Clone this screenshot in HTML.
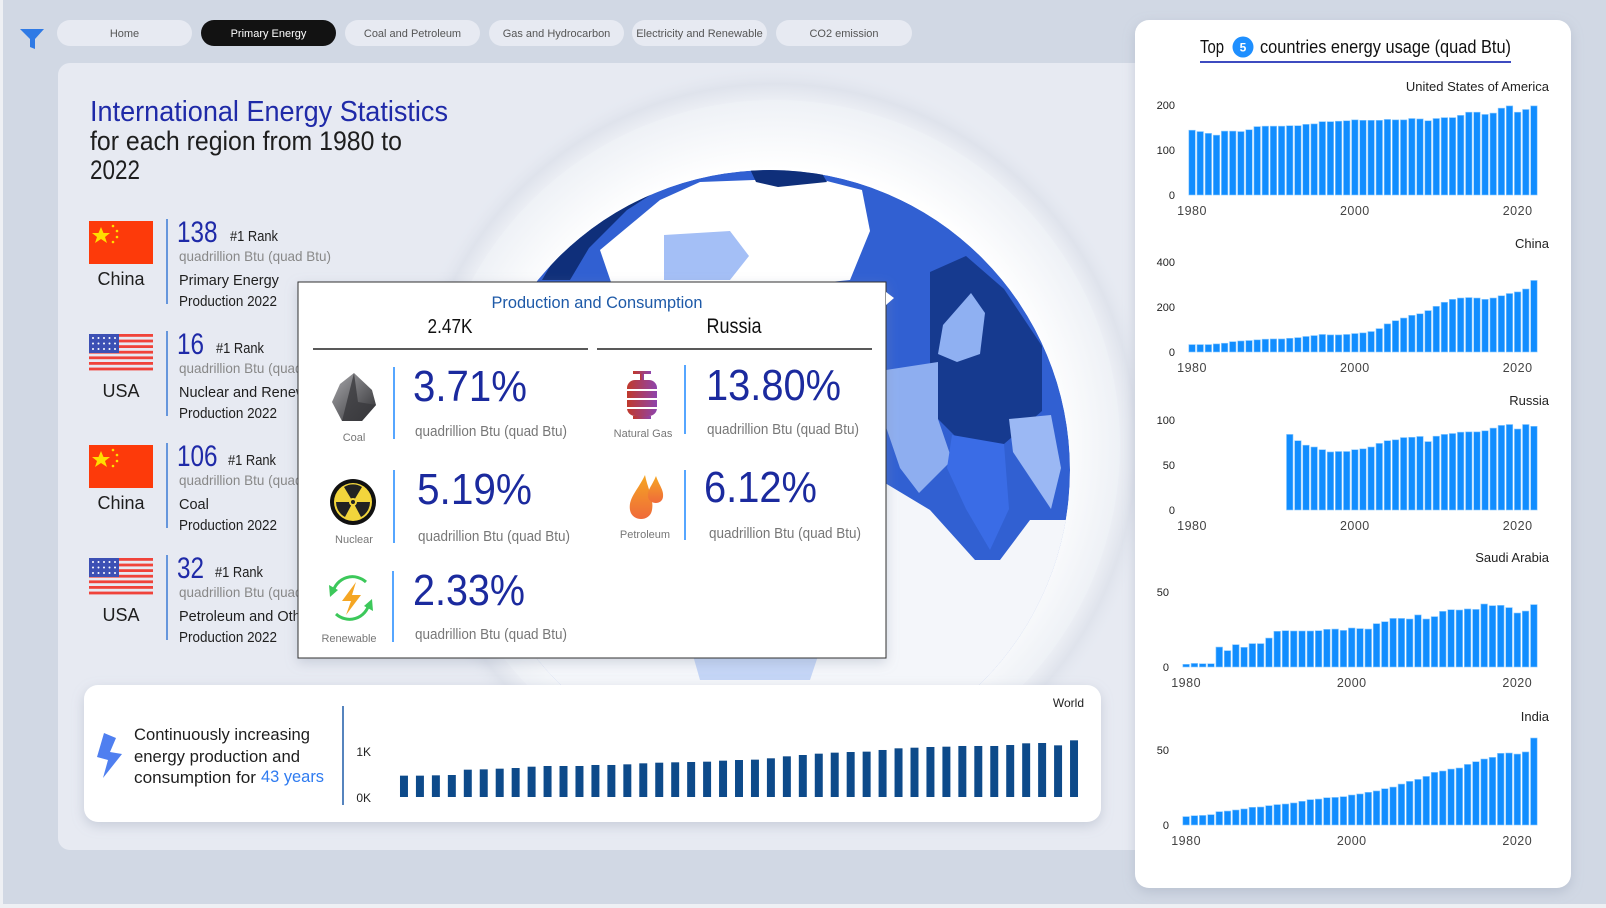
<!DOCTYPE html>
<html><head><meta charset="utf-8"><style>
html,body{margin:0;padding:0;background:#eef0f4;}
svg{display:block;font-family:"Liberation Sans",sans-serif;}
</style></head><body>
<svg id="root" width="1606" height="908" viewBox="0 0 1606 908" xmlns="http://www.w3.org/2000/svg">
<defs>
<filter id="sh" x="-10%" y="-10%" width="120%" height="130%"><feDropShadow dx="0" dy="4" stdDeviation="6" flood-color="#8a94aa" flood-opacity="0.35"/></filter>
<radialGradient id="halo" cx="0.5" cy="0.5" r="0.5"><stop offset="0.88" stop-color="#f3f5f9"/><stop offset="0.95" stop-color="#dfe3ec"/><stop offset="1" stop-color="#e6eaf2" stop-opacity="0"/></radialGradient>
<radialGradient id="disc" cx="0.5" cy="0.5" r="0.5"><stop offset="0.8" stop-color="#ffffff"/><stop offset="1" stop-color="#eef1f6"/></radialGradient>
<clipPath id="earth"><circle cx="770" cy="470" r="300"/></clipPath>
<linearGradient id="gasg" x1="0" x2="1"><stop offset="0" stop-color="#c0392b"/><stop offset="1" stop-color="#8e44ad"/></linearGradient>
<linearGradient id="oilg" x1="0" y1="0" x2="0" y2="1"><stop offset="0" stop-color="#f5a623"/><stop offset="1" stop-color="#ef6a3a"/></linearGradient>
<linearGradient id="coalg" x1="0" y1="0" x2="1" y2="1"><stop offset="0" stop-color="#a9a9ad"/><stop offset="1" stop-color="#2d2d30"/></linearGradient>
</defs>

<rect x="3" y="0" width="1603" height="904" fill="#d1d8e4"/>
<rect x="58" y="63" width="1100" height="787" rx="12" fill="#e7eaf2"/>

<g>
  <path d="M20 29 H44 L35 39 V49 L30 47 V39 Z" fill="#2f7ae5"/>
  <g><rect x="57" y="20" width="135" height="26" rx="13" fill="#e7eaf2"/><text x="124.5" y="37" font-size="11" fill="#555" text-anchor="middle">Home</text></g>
  <g><rect x="201" y="20" width="135" height="26" rx="13" fill="#121212"/><text x="268.5" y="37" font-size="11" fill="#fff" text-anchor="middle">Primary Energy</text></g>
  <g><rect x="345" y="20" width="135" height="26" rx="13" fill="#e7eaf2"/><text x="412.5" y="37" font-size="11" fill="#555" text-anchor="middle">Coal and Petroleum</text></g>
  <g><rect x="489" y="20" width="135" height="26" rx="13" fill="#e7eaf2"/><text x="556.5" y="37" font-size="11" fill="#555" text-anchor="middle">Gas and Hydrocarbon</text></g>
  <g><rect x="632" y="20" width="135" height="26" rx="13" fill="#e7eaf2"/><text x="699.5" y="37" font-size="11" fill="#555" text-anchor="middle">Electricity and Renewable</text></g>
  <g><rect x="776" y="20" width="136" height="26" rx="13" fill="#e7eaf2"/><text x="844" y="37" font-size="11" fill="#555" text-anchor="middle">CO2 emission</text></g>
</g>

<g>
  <circle cx="775" cy="445" r="380" fill="url(#halo)"/>
  <circle cx="775" cy="445" r="345" fill="url(#disc)"/>
  <g clip-path="url(#earth)">
    <circle cx="770" cy="470" r="300" fill="#3160d2"/>
    <polygon points="600,250 660,200 700,182 754,180 815,178 862,190 870,231 850,280 730,292 612,285" fill="#ffffff"/>
    <polygon points="542,280 556,256 598,219 664,183 683,174 627,210 589,248 570,280" fill="#0f2f7a"/>
    <polygon points="749,167 792,162 820,170 827,182 778,187 756,182" fill="#0f2f7a"/>
    <polygon points="664,235 730,231 749,256 730,280 664,280" fill="#a4bff6"/>
    <polygon points="930,272 966,256 1004,289 1042,346 1042,411 1004,444 971,452 938,419 930,362" fill="#163a8f"/>
    <polygon points="943,325 971,293 985,313 980,354 957,362 938,354" fill="#8fb0f2"/>
    <polygon points="886,370 938,362 938,419 952,460 919,493 900,468 886,427" fill="#8eaef0"/>
    <polygon points="952,435 1004,444 1009,509 990,550 966,509 947,468" fill="#3a6ce6"/>
    <polygon points="1009,419 1051,415 1061,468 1051,509 1013,452" fill="#9bb8f4"/>
    <polygon points="470,520 880,480 930,510 975,560 1000,560 1030,520 1080,520 1080,800 470,800" fill="#f4f6fa"/>
    <polygon points="690,645 760,640 820,650 810,680 700,680" fill="#c4d5f6"/>
  </g>
</g>

<text x="90" y="121" font-size="29" fill="#1f2aa8" textLength="358" lengthAdjust="spacingAndGlyphs">International Energy Statistics</text>
<text x="90" y="150" font-size="27" fill="#1e1e1e" textLength="312" lengthAdjust="spacingAndGlyphs">for each region from 1980 to</text>
<text x="90" y="179" font-size="27" fill="#1e1e1e" textLength="50" lengthAdjust="spacingAndGlyphs">2022</text>

<g id="rows"></g>

<g>
  <rect x="298" y="282" width="588" height="376" fill="#fff" stroke="#333" stroke-width="1" filter="url(#sh)"/>
  <polygon points="886,292 894,298 886,305" fill="#fff"/>
  <text x="597" y="308" font-size="17" fill="#1e5aa8" text-anchor="middle" textLength="211" lengthAdjust="spacingAndGlyphs">Production and Consumption</text>
  <text x="450" y="333" font-size="20" fill="#111" text-anchor="middle" textLength="45" lengthAdjust="spacingAndGlyphs">2.47K</text>
  <text x="734" y="333" font-size="21" fill="#111" text-anchor="middle" textLength="55" lengthAdjust="spacingAndGlyphs">Russia</text>
  <line x1="313" y1="349" x2="588" y2="349" stroke="#222" stroke-width="1.5"/>
  <line x1="597" y1="349" x2="872" y2="349" stroke="#222" stroke-width="1.5"/>

  <g>
    <polygon points="354,373 372,390 376,405 362,421 342,421 332,402 340,384" fill="url(#coalg)"/>
    <polygon points="354,373 358,402 376,405 362,421 342,421" fill="#3a3a3d" opacity="0.8"/>
    <text x="354" y="441" font-size="11" fill="#777" text-anchor="middle">Coal</text>
    <line x1="394" y1="367" x2="394" y2="439" stroke="#1e88ff" stroke-width="1.5"/>
    <text x="413" y="401" font-size="44" fill="#1b2a9e" textLength="114" lengthAdjust="spacingAndGlyphs">3.71%</text>
    <text x="415" y="436" font-size="15" fill="#777" textLength="152" lengthAdjust="spacingAndGlyphs">quadrillion Btu (quad Btu)</text>
  </g>
  <g>
    <circle cx="353" cy="502" r="23" fill="#111"/><circle cx="353" cy="502" r="19" fill="#f2d53c"/>
    <path d="M353 502 L344 487 A17 17 0 0 1 362 487 Z M353 502 L370 502 A17 17 0 0 1 361 517 Z M353 502 L345 517 A17 17 0 0 1 336 502 Z" fill="#222"/>
    <circle cx="353" cy="502" r="4" fill="#f2d53c"/><circle cx="353" cy="502" r="2" fill="#222"/>
    <text x="354" y="543" font-size="11" fill="#777" text-anchor="middle">Nuclear</text>
    <line x1="394" y1="470" x2="394" y2="543" stroke="#1e88ff" stroke-width="1.5"/>
    <text x="417" y="504" font-size="44" fill="#1b2a9e" textLength="115" lengthAdjust="spacingAndGlyphs">5.19%</text>
    <text x="418" y="541" font-size="15" fill="#777" textLength="152" lengthAdjust="spacingAndGlyphs">quadrillion Btu (quad Btu)</text>
  </g>
  <g>
    <path d="M333 592 A20 20 0 0 1 366 582" fill="none" stroke="#3cc85a" stroke-width="3"/>
    <path d="M369 604 A20 20 0 0 1 336 614" fill="none" stroke="#3cc85a" stroke-width="3"/>
    <polygon points="329,585 338,590 330,597" fill="#3cc85a"/><polygon points="373,611 364,606 372,599" fill="#3cc85a"/>
    <polygon points="356,582 342,601 351,601 346,615 361,595 352,595" fill="#f5a623"/>
    <text x="349" y="642" font-size="11" fill="#777" text-anchor="middle">Renewable</text>
    <line x1="393" y1="571" x2="393" y2="642" stroke="#1e88ff" stroke-width="1.5"/>
    <text x="413" y="605" font-size="44" fill="#1b2a9e" textLength="112" lengthAdjust="spacingAndGlyphs">2.33%</text>
    <text x="415" y="639" font-size="15" fill="#777" textLength="152" lengthAdjust="spacingAndGlyphs">quadrillion Btu (quad Btu)</text>
  </g>
  <g>
    <rect x="633" y="371" width="18" height="3" fill="url(#gasg)"/><rect x="640" y="374" width="4" height="6" fill="url(#gasg)"/>
    <rect x="627" y="380" width="30" height="36" rx="8" fill="url(#gasg)"/>
    <rect x="627" y="389" width="30" height="2" fill="#fff"/><rect x="627" y="398" width="30" height="2" fill="#fff"/><rect x="627" y="407" width="30" height="2" fill="#fff"/>
    <rect x="633" y="416" width="18" height="3" fill="url(#gasg)"/>
    <text x="643" y="437" font-size="11" fill="#777" text-anchor="middle">Natural Gas</text>
    <line x1="685" y1="365" x2="685" y2="434" stroke="#1e88ff" stroke-width="1.5"/>
    <text x="706" y="400" font-size="44" fill="#1b2a9e" textLength="135" lengthAdjust="spacingAndGlyphs">13.80%</text>
    <text x="707" y="434" font-size="15" fill="#777" textLength="152" lengthAdjust="spacingAndGlyphs">quadrillion Btu (quad Btu)</text>
  </g>
  <g>
    <path d="M645 475 C638 490 628 498 630 510 C632 522 650 522 652 510 C654 498 648 490 645 475 Z" fill="url(#oilg)"/>
    <path d="M656 476 C652 486 647 490 648 497 C650 505 662 505 663 497 C664 490 659 485 656 476 Z" fill="url(#oilg)"/>
    <text x="645" y="538" font-size="11" fill="#777" text-anchor="middle">Petroleum</text>
    <line x1="685" y1="470" x2="685" y2="540" stroke="#1e88ff" stroke-width="1.5"/>
    <text x="704" y="502" font-size="44" fill="#1b2a9e" textLength="113" lengthAdjust="spacingAndGlyphs">6.12%</text>
    <text x="709" y="538" font-size="15" fill="#777" textLength="152" lengthAdjust="spacingAndGlyphs">quadrillion Btu (quad Btu)</text>
  </g>
</g>

<g>
  <rect x="84" y="685" width="1017" height="137" rx="14" fill="#fff" filter="url(#sh)"/>
  <polygon points="104,733 116,738 110,752 122,754 103,778 108,760 97,757" fill="#4f7ff0"/>
  <text x="134" y="740" font-size="17" fill="#1e1e1e" textLength="176" lengthAdjust="spacingAndGlyphs">Continuously increasing</text>
  <text x="134" y="762" font-size="17" fill="#1e1e1e" textLength="166" lengthAdjust="spacingAndGlyphs">energy production and</text>
  <text x="134" y="783" font-size="17" fill="#1e1e1e" textLength="122" lengthAdjust="spacingAndGlyphs">consumption for</text>
  <text x="261" y="782" font-size="17" fill="#2f7bf0" textLength="63" lengthAdjust="spacingAndGlyphs">43 years</text>
  <line x1="343" y1="706" x2="343" y2="805" stroke="#1e5aa8" stroke-width="1.5"/>
  <text x="1084" y="707" font-size="12" fill="#222" text-anchor="end">World</text>
  <g id="worldChart"></g>
</g>

<g>
  <rect x="1135" y="20" width="436" height="868" rx="14" fill="#fff" filter="url(#sh)"/>
  <text x="1200" y="53" font-size="18" fill="#111" textLength="24" lengthAdjust="spacingAndGlyphs">Top</text>
  <circle cx="1243" cy="47" r="10.5" fill="#1e8fff"/>
  <text x="1243" y="51.5" font-size="12" fill="#fff" text-anchor="middle" font-weight="bold">5</text>
  <text x="1260" y="53" font-size="18" fill="#111" textLength="251" lengthAdjust="spacingAndGlyphs">countries energy usage (quad Btu)</text>
  <line x1="1200" y1="62" x2="1511" y2="62" stroke="#3d4bc0" stroke-width="2"/>
  <g id="smallCharts"></g>
</g>

<script>
const years = [];
for (let y = 1980; y <= 2022; y++) years.push(y);

const usValues = [144,141,137,133,142,142,141,145,152,153,153,153,154,154,157,158,163,163,164,165,167,166,166,166,168,167,167,170,169,165,170,172,172,177,184,184,179,182,193,198,184,190,198];
const chinaValues = [33,33,33,36,39,46,49,51,54,57,58,58,61,64,69,73,78,76,76,78,82,85,91,104,125,139,151,163,170,184,203,221,234,240,242,240,234,240,250,260,267,280,318];
const russiaValues = [null,null,null,null,null,null,null,null,null,null,null,null,84,77,72,70,67,64.5,65,65,67,68,70,74,77,78,80.5,80.8,81.7,76,82,84,85,86.5,86.8,86.8,88,91,94,95,90,95,93];
const saudiValues = [1.8,2.4,2.2,2.2,13.3,10.9,14.9,13.1,15.6,15.6,19.3,23.8,24.2,24,24,24,24.2,25.1,25.3,24.4,26,25.6,25.3,28.9,30.2,32.4,32.4,32,34.7,32,33.6,37.1,38.2,38,38.7,38.4,42,40.9,41.1,39.6,36,37.3,41.6];
const indiaValues = [5.6,6.2,6.4,6.9,8.9,9.3,10,10.7,11.8,12,12.9,13.6,14,14.7,15.8,16.9,17.3,18.2,18.4,18.9,20,20.7,21.8,22.7,24.2,25.3,27.3,29.1,30.4,32.4,35.1,36,37.3,38,40.4,42.2,44,45.1,47.8,48,47.3,48.7,58];
const worldValues = [464,464,471,478,594,601,616,630,659,674,674,674,696,696,710,732,746,754,761,768,790,804,812,841,884,913,942,964,978,986,1022,1058,1072,1087,1094,1109,1109,1109,1130,1167,1174,1123,1232];

const usTicks = [0,100,200];
const chinaTicks = [0,200,400];
const russiaTicks = [0,50,100];
const saudiTicks = [0,50];
const indiaTicks = [0,50];
const xTickYears = [1980,2000,2020];
const worldTicks = [0,1000];
const worldTickLabels = ['0K','1K'];

const countryNames = ['United States of America','China','Russia','Saudi Arabia','India'];

const rankCountries = ['China','USA','China','USA'];
const rankValues = ['138','16','106','32'];
const rankCategory = ['Primary Energy','Nuclear and Renewables','Coal','Petroleum and Other Liquids'];

const NS = 'http://www.w3.org/2000/svg';
function mk(tag, attrs, parent) {
  const e = document.createElementNS(NS, tag);
  for (const k in attrs) e.setAttribute(k, attrs[k]);
  if (parent) parent.appendChild(e);
  return e;
}

const small = document.getElementById('smallCharts');
const cfgs = [
  {vals: usValues, ticks: usTicks, max: 200, base: 195, h: 90, x0: 1188, x1: 1538, tx: 1175, label: 0, ly: 91},
  {vals: chinaValues, ticks: chinaTicks, max: 400, base: 352, h: 90, x0: 1188, x1: 1538, tx: 1175, label: 1, ly: 248},
  {vals: russiaValues, ticks: russiaTicks, max: 100, base: 510, h: 90, x0: 1188, x1: 1538, tx: 1175, label: 2, ly: 405},
  {vals: saudiValues, ticks: saudiTicks, max: 50, base: 667, h: 75, x0: 1182, x1: 1538, tx: 1169, label: 3, ly: 562},
  {vals: indiaValues, ticks: indiaTicks, max: 50, base: 825, h: 75, x0: 1182, x1: 1538, tx: 1169, label: 4, ly: 721}
];
cfgs.forEach((c, ci) => {
  const g = mk('g', {}, small);
  
  
  const yScale = v => c.base - v / c.max * c.h;
  const pitch = (c.x1 - c.x0) / years.length;
  const xCenter = i => c.x0 + pitch * (i + 0.5);
  const lab = mk('text', {x: 1549, y: c.ly, 'font-size': 13, fill: '#222', 'text-anchor': 'end'}, g);
  lab.textContent = countryNames[c.label];
  
  
  c.ticks.forEach(t => {
    const tt = mk('text', {x: c.tx, y: yScale(t) + 4, 'font-size': 11, fill: '#222', 'text-anchor': 'end'}, g);
    tt.textContent = t;
    
    
  });
  xTickYears.forEach(yr => {
    const i = years.indexOf(yr);
    const tt = mk('text', {x: xCenter(i), y: c.base + 20, 'font-size': 12.5, fill: '#444', 'text-anchor': 'middle', 'letter-spacing': '0.5'}, g);
    tt.textContent = yr;
    
    
  });
  c.vals.forEach((v, i) => {
    if (v === null) return;
    const y = yScale(v);
    const r = mk('rect', {x: xCenter(i) - pitch * 0.4, y: y, width: pitch * 0.8, height: c.base - y, fill: '#118dff', stroke: '#8ccaff', 'stroke-width': 0.6}, g);
    
    
  });
});

const wg = document.getElementById('worldChart');
const wBase = 797, wH = 46, wX0 = 396, wX1 = 1082;
const wy = v => wBase - v / 1000 * wH;
const wPitch = (wX1 - wX0) / years.length;
worldTicks.forEach((t, i) => {
  const tt = mk('text', {x: 371, y: wy(t) + 5, 'font-size': 12, fill: '#222', 'text-anchor': 'end'}, wg);
  tt.textContent = worldTickLabels[i];
  
  
});
worldValues.forEach((v, i) => {
  const y = wy(v);
  const r = mk('rect', {x: wX0 + wPitch * i + wPitch * 0.25, y: y, width: wPitch * 0.5, height: wBase - y, fill: '#0d4a8a'}, wg);
  
  
});

const rows = document.getElementById('rows');
const rankX = [230, 216, 228, 215];
function chinaFlag(g, x, y) {
  mk('rect', {x: x, y: y, width: 64, height: 43, fill: '#fd3a0a'}, g);
  mk('polygon', {points: `${x+12},${y+6} ${x+14.5},${y+12} ${x+21},${y+12} ${x+16},${y+16} ${x+18},${y+22} ${x+12},${y+18} ${x+6},${y+22} ${x+8},${y+16} ${x+3},${y+12} ${x+9.5},${y+12}`, fill: '#ffde00'}, g);
  [[24,5],[28,10],[28,16],[24,21]].forEach(p => mk('circle', {cx: x+p[0], cy: y+p[1], r: 1.3, fill: '#ffde00'}, g));
}
function usaFlag(g, x, y) {
  for (let s = 0; s < 7; s++) mk('rect', {x: x, y: y + s * 5.6, width: 64, height: 2.8, fill: '#f0433a'}, g);
  mk('rect', {x: x, y: y, width: 30, height: 19, fill: '#3c50b4'}, g);
  for (let r = 0; r < 3; r++) for (let c = 0; c < 5; c++) mk('circle', {cx: x + 4 + c * 5.5, cy: y + 4 + r * 5.5, r: 1, fill: '#fff'}, g);
}
rankCountries.forEach((cn, i) => {
  const oy = i * 112;
  const g = mk('g', {}, rows);
  
  
  if (cn === 'China') chinaFlag(g, 89, 221 + oy); else usaFlag(g, 89, 222 + oy);
  const t1 = mk('text', {x: 121, y: 285 + oy, 'font-size': 18, fill: '#1e1e1e', 'text-anchor': 'middle'}, g); t1.textContent = cn;
  mk('line', {x1: 167, y1: 219 + oy, x2: 167, y2: 304 + oy, stroke: '#3a7bd5', 'stroke-width': 1.5}, g);
  const t2 = mk('text', {x: 177, y: 242 + oy, 'font-size': 30, fill: '#1f2aa8', textLength: rankValues[i].length * 13.5, lengthAdjust: 'spacingAndGlyphs'}, g); t2.textContent = rankValues[i];
  const t3 = mk('text', {x: rankX[i], y: 241 + oy, 'font-size': 15, fill: '#1e1e1e', textLength: 48, lengthAdjust: 'spacingAndGlyphs'}, g); t3.textContent = '#1 Rank';
  const t4 = mk('text', {x: 179, y: 261 + oy, 'font-size': 14, fill: '#888', textLength: 152, lengthAdjust: 'spacingAndGlyphs'}, g); t4.textContent = 'quadrillion Btu (quad Btu)';
  const t5 = mk('text', {x: 179, y: 285 + oy, 'font-size': 14.5, fill: '#1e1e1e'}, g); t5.textContent = rankCategory[i];
  const t6 = mk('text', {x: 179, y: 306 + oy, 'font-size': 14.5, fill: '#1e1e1e', textLength: 98, lengthAdjust: 'spacingAndGlyphs'}, g); t6.textContent = 'Production 2022';
});
</script>
</svg>
</body></html>
